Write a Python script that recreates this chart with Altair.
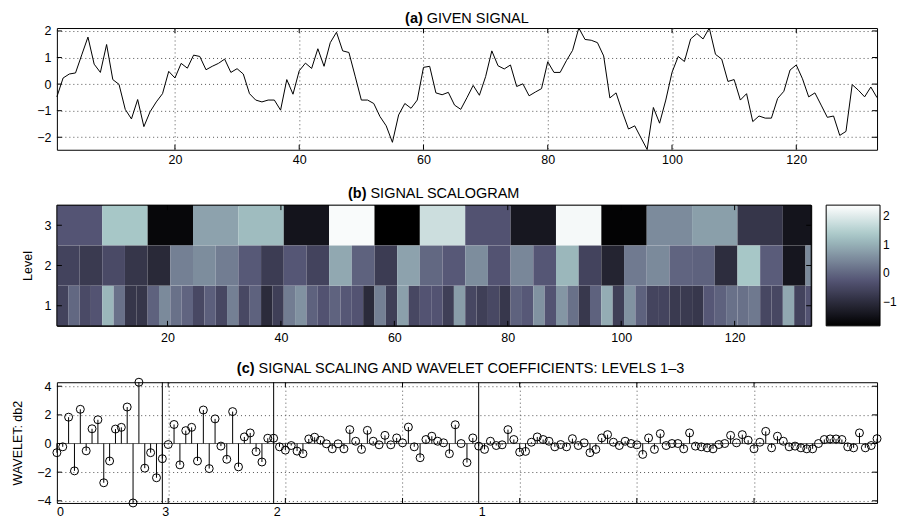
import altair as alt
import pandas as pd

FONT = "Liberation Sans"

# ---------------- data ----------------
signal = [-0.48, 0.23, 0.38, 0.42, 1.1, 1.77, 0.75, 0.44, 1.49, 0.17,
          -0.01, -0.95, -1.31, -0.58, -1.6, -1.04, -0.67, -0.36, 0.48, 0.23,
          0.78, 0.6, 1.09, 1.04, 0.54, 0.67, 0.78, 0.94, 0.44, 0.58,
          0.38, -0.36, -0.6, -0.67, -0.6, -0.6, -0.98, 0.17, -0.38, 0.5,
          0.79, 0.59, 1.33, 0.67, 1.56, 1.95, 1.25, 1.19, 0.3, -0.6,
          -0.6, -0.73, -1.22, -1.57, -2.19, -1.16, -0.73, -0.91, -0.6, 0.63,
          0.67, -0.33, -0.4, -0.31, -0.79, -0.95, -0.51, -0.05, -0.42, 0.28,
          1.25, 0.69, 0.57, 0.72, -0.09, 0.01, -0.44, -0.3, -0.17, 0.84,
          0.44, 0.44, 0.88, 1.27, 2.11, 1.68, 1.65, 1.56, 1.06, -0.52,
          -0.33, -1.04, -1.69, -1.57, -2.02, -2.46, -0.88, -1.47, -0.6, 0.44,
          1.04, 0.85, 1.7, 1.9, 1.7, 2.11, 1.12, 0.94, 0.1, 0.17,
          -0.6, -0.36, -1.41, -1.2, -1.28, -1.28, -0.54, -0.27, 0.53, 0.72,
          0.2, -0.48, -0.33, -0.79, -1.25, -1.2, -1.93, -1.78, -0.02, -0.23,
          -0.48, -0.11, -0.51]

level3 = [-0.25, 1.32, -1.7, 0.82, 1.17, -1.45, 2.3, -1.83, 1.76, -0.3,
          -1.4, 2.25, -1.78, 0.5, 0.77, -0.82, -1.45]

level2 = [-0.57, -0.74, -0.44, -0.82, -1.07, 0.35, 0.52, 0.31, -0.19, -0.7,
          -0.23, -0.57, 0.9, -0.07, -0.7, 0.82, 0.02, -0.2, 0.52, -0.28,
          0.45, -0.23, 1.1, -0.57, -1.16, 0.27, 0.48, -0.03, -0.07, -0.99,
          1.32, -0.15, -1.41, 0.48]

level1 = [-0.57, 0.02, -0.44, -0.28, 1.1, 0.14, -0.82, -0.82, -0.07, 0.48,
          0.14, -0.03, -0.48, -0.1, -0.5, 0.35, -0.48, -0.07, -1.03, -0.65,
          0.31, 0.6, -0.07, -0.3, -0.05, -0.22, -0.28, -1.03, 0.35, -0.65,
          0.78, -0.5, -0.28, -0.28, -0.65, 0.75, -0.5, -0.65, -0.48, -0.8,
          -0.07, -0.2, 0.6, -0.28, 0.65, 0.14, -0.78, -0.07, 0.95, -0.65,
          0.6, -0.07, -0.55, -0.55, -0.75, -0.75, -0.8, -0.22, -0.07, 0.14,
          0.14, 0.25, -0.5, -0.5, 0.9, -0.57, -0.28]

coef = [-0.64, -0.23, 1.84, -1.91, 2.39, -0.51, 1.03, 1.66, -2.74, -1.22,
        1.01, 1.13, 2.55, -4.15, 4.28, -1.72, -0.64, -2.39, -1.06, -0.07,
        1.33, -1.49, 0.9, 1.13, -1.22, 2.34, -1.75, 1.72, -0.18, -1.1,
        2.23, -1.63, 0.46, 0.74, -0.57, -1.29, 0.37, 0.37, -0.23, -0.46,
        -0.14, -0.53, -0.71, 0.32, 0.44, 0.23, -0.02, -0.37, -0.02, -0.37,
        0.97, 0.16, -0.41, 0.92, 0.16, -0.09, 0.57, -0.09, 0.39, 0.05,
        1.15, -0.23, -0.99, 0.28, 0.51, 0.16, 0.05, -0.71, 1.31, 0.0,
        -1.33, 0.39, -0.18, -0.41, 0.16, -0.14, -0.09, 0.97, 0.28, -0.6,
        -0.55, 0.09, 0.46, 0.28, 0.16, -0.23, -0.07, -0.23, 0.34, -0.14,
        0.05, -0.64, -0.41, 0.39, 0.62, 0.09, -0.14, 0.16, 0.0, -0.09,
        -0.76, 0.39, -0.41, 0.69, -0.14, 0.0, 0.0, -0.37, 0.74, -0.18,
        -0.23, -0.3, -0.37, -0.07, 0.0, 0.57, 0.05, 0.62, 0.23, -0.37,
        0.09, 0.85, -0.3, 0.51, 0.16, -0.23, -0.18, -0.3, -0.37, -0.37,
        0.0, 0.28, 0.32, 0.32, 0.28, -0.23, -0.3, 0.74, -0.3, -0.14,
        0.34]

x_ticks = [20, 40, 60, 80, 100, 120]
signal_y_ticks = [-2, -1, 0, 1, 2]
coef_y_ticks = [-4, -2, 0, 2, 4]
level_ticks = [1, 2, 3]
colorbar_ticks = [-1, 0, 1, 2]
section_starts = [1, 19, 38, 73]
section_names = ["0", "3", "2", "1"]
section_bounds = [19, 38, 73]

# bone colormap stops and colour range of the scalogram
bone_colors = ["#000000", "#545474", "#a7c7c7", "#ffffff"]
c_min, c_max = -1.83, 2.37

N = len(signal)
M = len(coef)

WA, HA = 822, 122
WB, HB = 756, 121
WC, HC = 822, 121
TFS = 14.5

GRID = dict(grid=True, gridColor="#555555", gridDash=[1, 3], gridWidth=1, gridOpacity=1)
one = pd.DataFrame({"a": [0]})


def inward_ticks(xvals, yvals, X, Y, W, H, L=5):
    dfx = pd.DataFrame({"t": xvals})
    dfy = pd.DataFrame({"t": yvals})
    out = []
    for ya, yb in [(H, H - L), (0, L)]:
        out.append(alt.Chart(dfx).mark_rule(color="black", strokeWidth=1)
                   .encode(x=X("t:Q"), y=alt.value(ya), y2=alt.value(yb)))
    for xa, xb in [(0, L), (W, W - L)]:
        out.append(alt.Chart(dfy).mark_rule(color="black", strokeWidth=1)
                   .encode(y=Y("t:Q"), x=alt.value(xa), x2=alt.value(xb)))
    return out


def title_marks(bold, text, split, base_y):
    b = alt.Chart(one).mark_text(text=bold, font=FONT, fontSize=TFS, fontWeight="bold",
                                 align="right", baseline="alphabetic", color="black"
                                 ).encode(x=alt.value(split), y=alt.value(base_y))
    n = alt.Chart(one).mark_text(text=text, font=FONT, fontSize=TFS, fontWeight="normal",
                                 align="left", baseline="alphabetic", color="black"
                                 ).encode(x=alt.value(split + 4), y=alt.value(base_y))
    return [b, n]


# ---------------- (a) signal ----------------
xsA = alt.Scale(domain=[1, N], nice=False, zero=False)
ysA = alt.Scale(domain=[-2.47, 2.11], nice=False, zero=False)
axA_x = alt.Axis(values=x_ticks, title=None, labelPadding=4, **GRID)
axA_y = alt.Axis(values=signal_y_ticks, title=None, labelPadding=6, **GRID)
XA = lambda f: alt.X(f, scale=xsA, axis=axA_x)
YA = lambda f: alt.Y(f, scale=ysA, axis=axA_y)
dfA = pd.DataFrame({"i": list(range(1, N + 1)), "v": signal})
lineA = alt.Chart(dfA).mark_line(color="black", strokeWidth=1).encode(x=XA("i:Q"), y=YA("v:Q"))
spacerA = alt.Chart(one).mark_rule(strokeOpacity=0, opacity=0).encode(
    x=alt.value(0), y=alt.value(HA), y2=alt.value(HA + 18.7))
panelA = alt.layer(
    lineA, spacerA,
    *inward_ticks(x_ticks, signal_y_ticks, XA, YA, WA, HA),
    *title_marks("(a)", "GIVEN SIGNAL", 366.7, -5.5),
).properties(width=WA, height=HA)

# ---------------- (b) scalogram ----------------
rows = []
for lev, vals in ((1, level1), (2, level2), (3, level3)):
    w = 2 ** lev
    for k, val in enumerate(vals):
        x0 = 0.5 + k * w
        rows.append({"x0": x0, "x1": min(x0 + w, N + 0.5),
                     "y0": lev - 0.5, "y1": lev + 0.5, "c": val})
dfB = pd.DataFrame(rows)
xsB = alt.Scale(domain=[0.5, N + 0.5], nice=False, zero=False)
ysB = alt.Scale(domain=[0.5, 3.5], nice=False, zero=False)
axB_x = alt.Axis(values=x_ticks, title=None, labelPadding=6, grid=False)
axB_y = alt.Axis(values=level_ticks, title="Level", labelPadding=6, titlePadding=9, grid=False)
XB = lambda f: alt.X(f, scale=xsB, axis=axB_x)
YB = lambda f: alt.Y(f, scale=ysB, axis=axB_y)
span = c_max - c_min
cscale = alt.Scale(domain=[c_min, c_min + 0.375 * span, c_min + 0.75 * span, c_max],
                   range=bone_colors, interpolate="rgb")
rectB = alt.Chart(dfB).mark_rect(strokeWidth=0).encode(
    x=XB("x0:Q"), x2="x1:Q", y=YB("y0:Q"), y2="y1:Q",
    color=alt.Color("c:Q", scale=cscale, title=None,
                    legend=alt.Legend(values=colorbar_ticks, orient="right", offset=15,
                                      gradientLength=HB, gradientThickness=54,
                                      gradientStrokeColor="black", gradientStrokeWidth=1,
                                      labelFont=FONT, labelFontSize=12, labelColor="black",
                                      labelOffset=3, padding=0, direction="vertical")),
)
frameB = alt.Chart(one).mark_rect(fill="transparent", stroke="black", strokeWidth=1).encode(
    x=alt.value(0), x2=alt.value(WB), y=alt.value(0), y2=alt.value(HB))
panelB = alt.layer(
    rectB, frameB,
    *inward_ticks(x_ticks, level_ticks, XB, YB, WB, HB),
    *title_marks("(b)", "SIGNAL SCALOGRAM", 310.3, -7.3),
).properties(width=WB, height=HB)

# ---------------- (c) coefficients ----------------
xsC = alt.Scale(domain=[1, M], nice=False, zero=False)
ysC = alt.Scale(domain=[-4.15, 4.28], nice=False, zero=False)
axC_x = alt.Axis(values=x_ticks, title=None, labels=False, **GRID)
axC_y = alt.Axis(values=coef_y_ticks, title="WAVELET: db2", labelPadding=6, titlePadding=12, **GRID)
XC = lambda f: alt.X(f, scale=xsC, axis=axC_x)
YC = lambda f: alt.Y(f, scale=ysC, axis=axC_y)
dfC = pd.DataFrame({"i": list(range(1, M + 1)), "v": coef, "z": [0.0] * M})
baseC = alt.Chart(pd.DataFrame({"z": [0.0]})).mark_rule(color="#666666", strokeWidth=1).encode(
    y=YC("z:Q"), x=alt.value(0), x2=alt.value(WC))
stemsC = alt.Chart(dfC).mark_rule(color="black", strokeWidth=1).encode(
    x=XC("i:Q"), y=YC("z:Q"), y2="v:Q")
pointsC = alt.Chart(dfC).mark_point(shape="circle", filled=False, color="black", size=64,
                                    strokeWidth=1, opacity=1).encode(x=XC("i:Q"), y=YC("v:Q"))
dfS = pd.DataFrame({"s": section_bounds})
sepC = alt.Chart(dfS).mark_rule(color="black", strokeWidth=1).encode(
    x=XC("s:Q"), y=alt.value(0), y2=alt.value(HC))
dfL = pd.DataFrame({"s": section_starts, "name": section_names})
labC = alt.Chart(dfL).mark_text(align="left", baseline="top", font=FONT, fontSize=12.5, color="black").encode(
    x=XC("s:Q"), y=alt.value(HC + 3), text="name:N")
panelC = alt.layer(
    baseC, stemsC, pointsC, sepC, labC,
    *inward_ticks(x_ticks, coef_y_ticks, XC, YC, WC, HC),
    *title_marks("(c)", "SIGNAL SCALING AND WAVELET COEFFICIENTS: LEVELS 1\u20133", 198.1, -9.4),
).properties(width=WC, height=HC)

chart = alt.vconcat(panelA, panelB, panelC, spacing=15.5).resolve_scale(
    color="independent"
).resolve_legend(
    color="independent"
).properties(
    padding={"left": 3, "top": 1.5, "right": -1, "bottom": -2}
).configure(background="white").configure_view(
    stroke="black", strokeWidth=1
).configure_axis(
    labelFont=FONT, labelFontSize=12.5, labelColor="black",
    titleFont=FONT, titleFontSize=12.5, titleFontWeight="normal", titleColor="black",
    ticks=False, tickSize=0, domain=False,
)

chart.save("out.html", embed_options={"renderer": "svg", "actions": False})
